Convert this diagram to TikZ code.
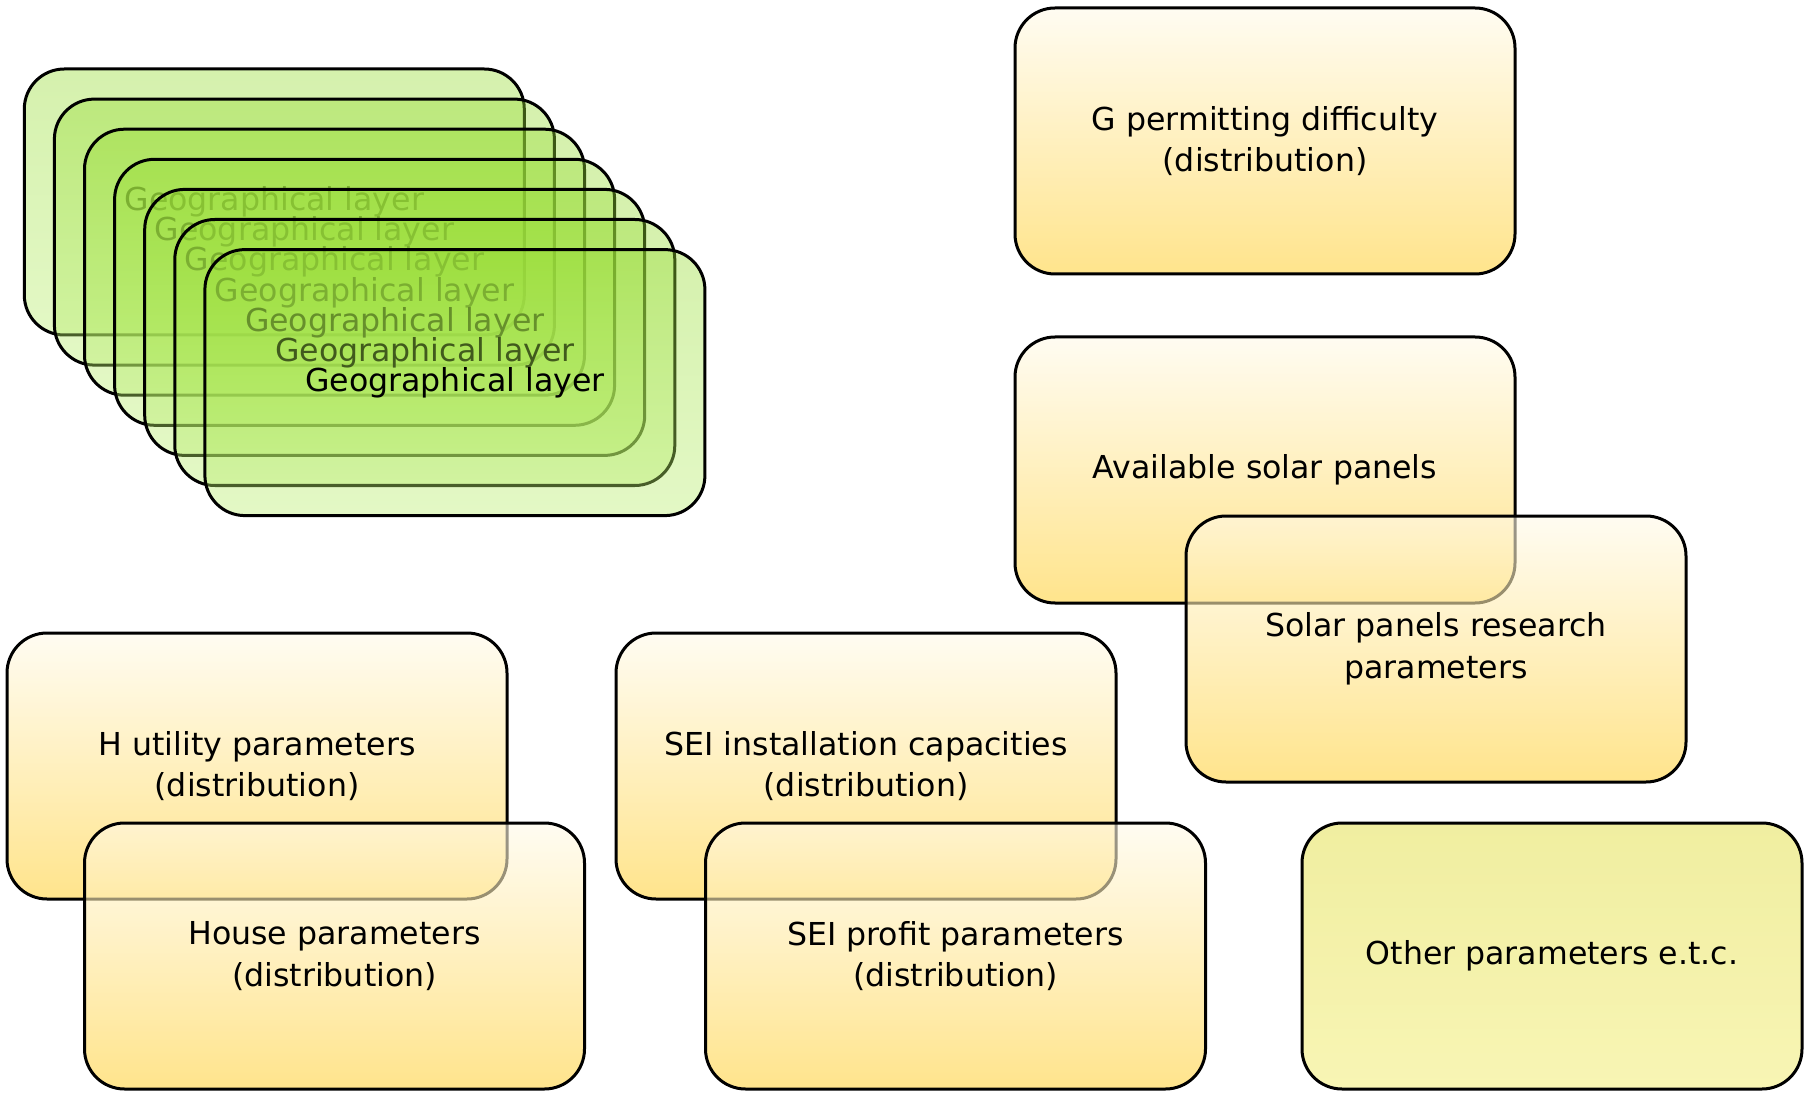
\documentclass[tikz,border=0pt]{standalone}
\usepackage{fontspec}
\setmainfont{DejaVu Sans}
\definecolor{ytop}{RGB}{255,250,233}
\definecolor{ybot}{RGB}{255,210,63}
\definecolor{gtop}{RGB}{150,220,50}
\definecolor{gbot}{RGB}{185,238,110}
\definecolor{otop}{RGB}{230,227,97}
\definecolor{obot}{RGB}{243,238,130}
\tikzset{
  box/.style={draw=black, line width=1.5pt, rounded corners=20pt,
    minimum width=250pt, minimum height=133pt, inner sep=0pt, align=center,
    font=\fontsize{15.8}{20.8}\selectfont, fill opacity=0.6, text opacity=1, draw opacity=1},
  ybox/.style={box, top color=ytop, bottom color=ybot},
  gbox/.style={box, top color=gtop, bottom color=gbot, fill opacity=0.4},
  obox/.style={box, top color=otop, bottom color=obot}
}
\begin{document}
\begin{tikzpicture}[x=0.5pt,y=-0.5pt]
\useasboundingbox (0,0) rectangle (1815,1101);
\foreach \i in {0,...,6}{
  \node[gbox] (geo\i) at ({274.3+30.1*\i},{202+30.1*\i}) {Geographical layer};
}
\node[ybox] (gperm) at (1265,141) {G permitting difficulty\\(distribution)};
\node[ybox] (avail) at (1265,470) {Available solar panels};
\node[ybox] (research) at (1436,649) {Solar panels research\\parameters};
\node[ybox] (hutil) at (257,766) {H utility parameters\\(distribution)};
\node[ybox] (house) at (334.5,956) {House parameters\\(distribution)};
\node[ybox] (seiinst) at (866,766) {SEI installation capacities\\(distribution)};
\node[ybox] (seiprof) at (955.5,956) {SEI profit parameters\\(distribution)};
\node[obox] (other) at (1552,956) {Other parameters e.t.c.};
\end{tikzpicture}
\end{document}
